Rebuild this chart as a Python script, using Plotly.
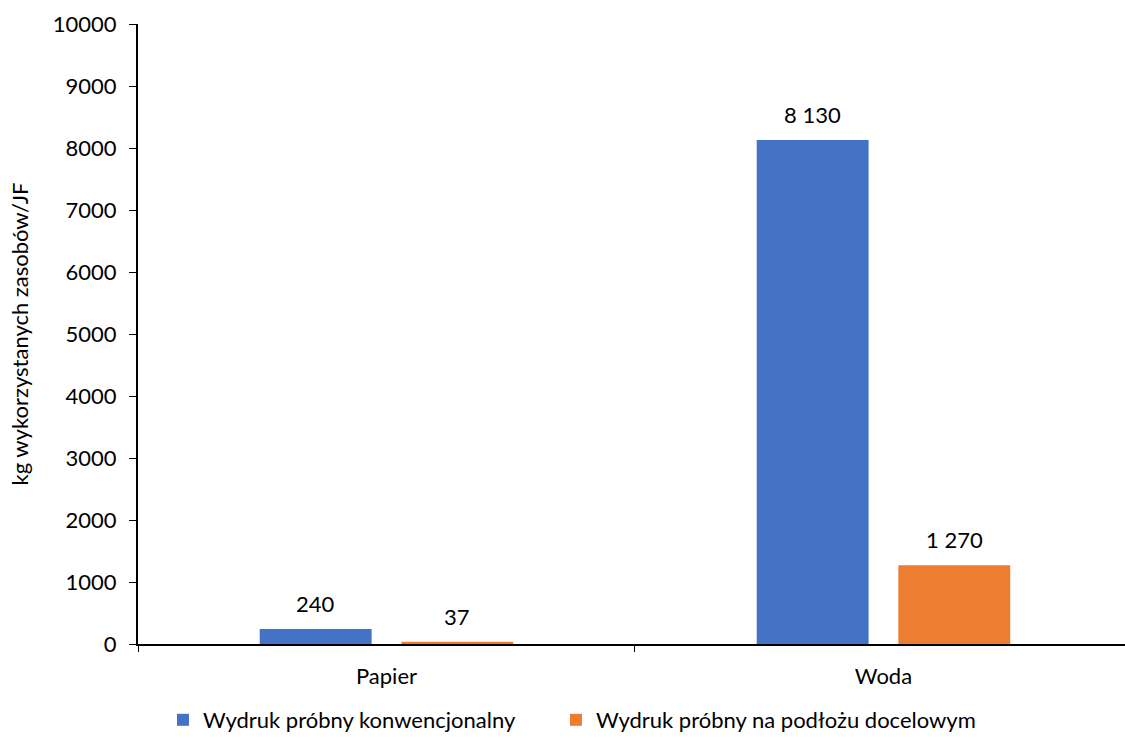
import plotly.graph_objects as go

categories = ["Papier", "Woda"]
series_names = ["Wydruk próbny konwencjonalny", "Wydruk próbny na podłożu docelowym"]
conventional = [240, 8130]
target_substrate = [37, 1270]
y_ticks = list(range(0, 10001, 1000))

colors = ["#4472C4", "#ED7D31"]
legend_widths = [348, 400]
font_family = "Lato, Carlito, Calibri, sans-serif"
font_size = 22

bargap = 0.43
bargroupgap = 0.21
series = [conventional, target_substrate]

fig = go.Figure()
for name, values, color, lw in zip(series_names, series, colors, legend_widths):
    fig.add_trace(go.Bar(
        x=categories,
        y=values,
        name=name,
        marker=dict(color=color, line=dict(width=0)),
        legendwidth=lw,
    ))

# value labels above each bar, placed at the bar's slot centre within its group
group_width = 1 - bargap
slot = group_width / len(series)
annotations = []
for j, values in enumerate(series):
    offset = -group_width / 2 + slot * (j + 0.5)
    for i, v in enumerate(values):
        annotations.append(dict(
            x=i + offset,
            y=v,
            xref="x",
            yref="y",
            text=f"{v:,}".replace(",", " "),
            showarrow=False,
            yanchor="bottom",
            yshift=10,
            font=dict(size=font_size, color="#000000", family=font_family),
        ))

fig.update_layout(
    width=1125,
    height=738,
    margin=dict(l=138, r=0, t=24, b=94, autoexpand=False),
    paper_bgcolor="white",
    plot_bgcolor="white",
    barmode="group",
    bargap=bargap,
    bargroupgap=bargroupgap,
    font=dict(family=font_family, size=font_size, color="#000000"),
    showlegend=True,
    annotations=annotations,
    legend=dict(
        orientation="h",
        x=0.0253,
        xanchor="left",
        y=-0.1226,
        yanchor="middle",
        font=dict(size=font_size, family=font_family),
        itemwidth=30,
        tracegroupgap=0,
    ),
    xaxis=dict(
        type="category",
        range=[-0.5, 1.486],
        showline=True,
        linecolor="#000000",
        linewidth=2,
        ticks="outside",
        tickson="boundaries",
        ticklen=6,
        tickcolor="#000000",
        tickwidth=1,
        ticklabelstandoff=12,
        showgrid=False,
        zeroline=False,
        tickfont=dict(size=font_size),
    ),
    yaxis=dict(
        range=[0, 10000],
        tickvals=y_ticks,
        tickformat="d",
        showline=True,
        linecolor="#000000",
        linewidth=2,
        ticks="outside",
        ticklen=7,
        tickcolor="#000000",
        tickwidth=1,
        ticklabelstandoff=8,
        showgrid=False,
        zeroline=False,
        tickfont=dict(size=font_size),
        title=dict(text="kg wykorzystanych zasobów/JF", font=dict(size=font_size), standoff=18),
    ),
)

fig.write_html("out.html")
